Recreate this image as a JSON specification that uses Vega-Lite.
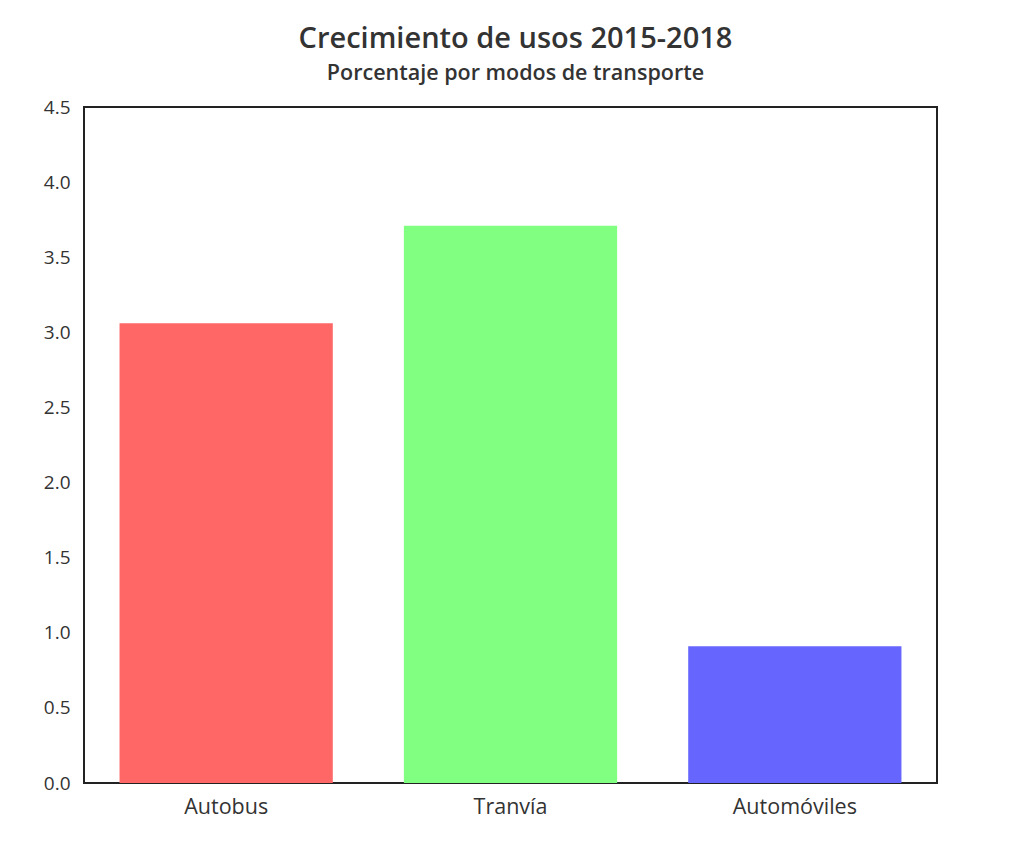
{
  "$schema": "https://vega.github.io/schema/vega-lite/v6.json",
  "width": 853,
  "height": 676,
  "autosize": {"type": "none"},
  "padding": {"left": 84, "top": 107, "right": 73, "bottom": 60},
  "background": "white",
  "title": {
    "text": "Crecimiento de usos 2015-2018",
    "subtitle": "Porcentaje por modos de transporte",
    "anchor": "middle",
    "font": "Open Sans",
    "fontSize": 29,
    "fontWeight": 600,
    "color": "#333333",
    "subtitleFont": "Open Sans",
    "subtitleFontSize": 21.5,
    "subtitleFontWeight": 600,
    "subtitleColor": "#333333",
    "subtitlePadding": 9,
    "offset": 14,
    "dx": 5
  },
  "data": {
    "values": [
      {"modo": "Autobus", "valor": 3.06},
      {"modo": "Tranvía", "valor": 3.71},
      {"modo": "Automóviles", "valor": 0.91}
    ]
  },
  "mark": {"type": "bar"},
  "encoding": {
    "x": {
      "field": "modo",
      "type": "nominal",
      "sort": null,
      "scale": {"paddingInner": 0.25, "paddingOuter": 0.125},
      "axis": {
        "title": null,
        "labelAngle": 0,
        "domain": false,
        "ticks": false,
        "labelPadding": 13,
        "labelFont": "Open Sans",
        "labelFontSize": 21.5,
        "labelColor": "#333333"
      }
    },
    "y": {
      "field": "valor",
      "type": "quantitative",
      "scale": {"domain": [0, 4.5], "nice": false, "zero": true},
      "axis": {
        "title": null,
        "values": [0, 0.5, 1, 1.5, 2, 2.5, 3, 3.5, 4, 4.5],
        "format": ".1f",
        "grid": false,
        "domain": false,
        "ticks": false,
        "labelPadding": 14,
        "labelFont": "Open Sans",
        "labelFontSize": 19,
        "labelColor": "#333333"
      }
    },
    "color": {
      "field": "modo",
      "type": "nominal",
      "sort": null,
      "scale": {
        "domain": ["Autobus", "Tranvía", "Automóviles"],
        "range": ["#ff6666", "#80ff80", "#6666ff"]
      },
      "legend": null
    }
  },
  "config": {
    "view": {"stroke": "#222222", "strokeWidth": 2}
  }
}
